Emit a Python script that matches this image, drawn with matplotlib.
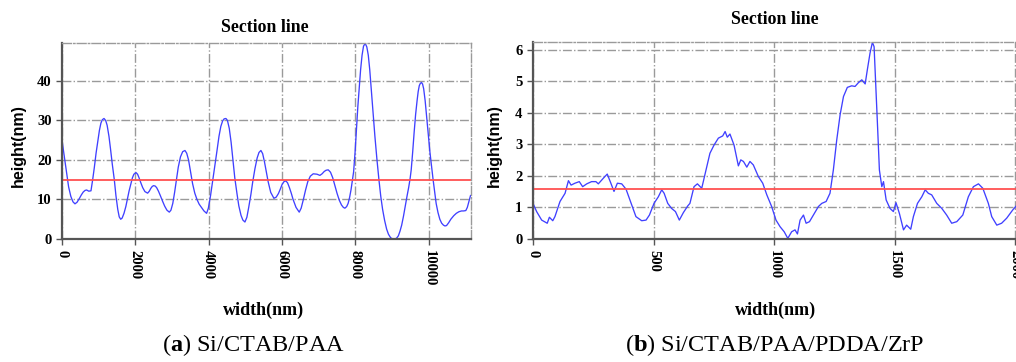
# section line profiles, two panels side by side
import numpy as np
import matplotlib.pyplot as plt

# (a) Si/CTAB/PAA  - width (nm) / height (nm)
a_x = [0, 60, 120, 180, 240, 300, 354, 410, 470, 530,
       580, 630, 672, 730, 790, 836, 880, 930, 980, 1020,
       1060, 1100, 1145, 1190, 1230, 1280, 1320, 1370, 1426, 1470,
       1520, 1560, 1600, 1640, 1690, 1740, 1780, 1830, 1880, 1920,
       1960, 2017, 2060, 2100, 2150, 2200, 2260, 2334, 2380, 2420,
       2460, 2497, 2540, 2580, 2630, 2680, 2740, 2800, 2860, 2925,
       2970, 3020, 3070, 3120, 3170, 3230, 3290, 3352, 3400, 3450,
       3500, 3560, 3620, 3680, 3740, 3800, 3870, 3942, 3990, 4050,
       4100, 4160, 4220, 4280, 4330, 4380, 4420, 4469, 4510, 4560,
       4610, 4660, 4710, 4770, 4820, 4880, 4930, 4987, 5040, 5090,
       5150, 5200, 5260, 5320, 5370, 5423, 5470, 5520, 5570, 5620,
       5690, 5777, 5840, 5900, 5950, 6000, 6050, 6104, 6150, 6200,
       6250, 6300, 6380, 6467, 6520, 6580, 6640, 6700, 6770, 6849,
       6950, 7031, 7090, 7150, 7200, 7258, 7320, 7380, 7440, 7500,
       7560, 7620, 7670, 7712, 7760, 7800, 7840, 7880, 7920, 7950,
       7990, 8030, 8065, 8100, 8140, 8180, 8220, 8266, 8310, 8350,
       8390, 8430, 8480, 8530, 8585, 8640, 8690, 8740, 8795, 8850,
       8900, 8960, 9020, 9074, 9120, 9170, 9215, 9260, 9310, 9360,
       9405, 9450, 9490, 9520, 9560, 9600, 9640, 9680, 9710, 9740,
       9770, 9801, 9830, 9860, 9900, 9940, 9985, 10030, 10075, 10117,
       10160, 10200, 10250, 10300, 10350, 10400, 10440, 10483, 10540, 10600,
       10680, 10750, 10820, 10892, 10950, 11009, 11050, 11080, 11110, 11137]
a_y = [25.0, 21.0, 17.0, 13.2, 10.8, 9.4, 8.9, 9.3, 10.2, 11.2,
       11.9, 12.3, 12.4, 12.1, 12.2, 15.0, 18.0, 21.8, 25.0, 27.5,
       29.3, 30.2, 30.5, 30.0, 28.8, 26.0, 23.0, 19.0, 15.0, 11.0,
       7.5, 5.6, 5.0, 5.3, 6.5, 8.2, 10.0, 12.2, 14.0, 15.5,
       16.4, 16.8, 16.4, 15.5, 14.2, 13.0, 12.0, 11.6, 12.1, 12.8,
       13.3, 13.5, 13.4, 13.0, 12.1, 11.0, 9.6, 8.3, 7.3, 6.8,
       7.3, 9.0, 11.8, 15.0, 18.2, 20.8, 22.1, 22.4, 21.7, 20.0,
       17.3, 14.0, 11.6, 10.0, 8.8, 8.0, 7.1, 6.5, 7.8, 11.0,
       14.2, 18.0, 22.0, 26.0, 28.5, 29.9, 30.4, 30.5, 30.0, 28.0,
       24.5, 20.0, 15.5, 11.5, 8.4, 6.0, 4.8, 4.3, 5.5, 8.0,
       11.3, 14.5, 17.8, 20.5, 21.9, 22.4, 21.6, 19.5, 17.0, 14.5,
       11.8, 10.3, 10.6, 11.5, 12.6, 13.8, 14.5, 14.7, 14.2, 13.0,
       11.6, 10.0, 8.0, 6.8, 7.8, 10.0, 12.4, 14.5, 15.9, 16.5,
       16.4, 16.1, 16.5, 17.1, 17.4, 17.5, 16.9, 15.5, 13.5, 11.5,
       9.8, 8.6, 8.0, 7.8, 8.2, 9.0, 10.5, 12.5, 15.0, 17.0,
       22.0, 28.0, 33.5, 38.0, 42.8, 46.5, 48.8, 49.5, 48.6, 46.5,
       42.8, 38.0, 32.0, 26.0, 20.2, 15.0, 10.8, 7.5, 4.7, 2.5,
       1.2, 0.3, 0.0, 0.0, 0.2, 0.8, 2.0, 3.5, 5.8, 8.5,
       10.8, 13.0, 15.3, 17.5, 22.0, 27.0, 31.5, 35.0, 37.3, 38.8,
       39.4, 39.6, 39.2, 38.0, 35.0, 31.0, 26.5, 22.0, 18.3, 15.0,
       11.8, 9.0, 6.7, 5.0, 4.0, 3.5, 3.3, 3.4, 4.1, 5.0,
       5.9, 6.5, 6.9, 7.1, 7.1, 7.2, 8.0, 9.0, 10.0, 11.0]
a_mean = 14.9

# (b) Si/CTAB/PAA/PDDA/ZrP
b_x = [0, 15, 36, 59, 68, 82, 91, 112, 133, 147, 158, 174, 192, 206, 223, 243, 261, 271,
       292, 308, 322, 336, 350, 368, 386, 402, 427, 451, 469, 483, 502, 520, 534, 544, 559,
       575, 591, 607, 624, 642, 651, 668, 682, 700, 718, 734, 751, 769, 787, 797, 806, 817,
       834, 852, 862, 873, 887, 900, 914, 935, 953, 970, 990, 1008, 1025, 1042, 1057, 1073,
       1087, 1097, 1108, 1122, 1133, 1147, 1163, 1184, 1198, 1216, 1232, 1246, 1260, 1274,
       1288, 1304, 1322, 1336, 1350, 1364, 1378, 1387, 1398, 1408, 1415, 1423, 1430, 1437,
       1447, 1454, 1465, 1481, 1495, 1506, 1520, 1537, 1550, 1567, 1578, 1595, 1613, 1627,
       1640, 1654, 1675, 1696, 1716, 1737, 1758, 1783, 1806, 1827, 1848, 1866, 1889, 1903,
       1924, 1944, 1965, 1990, 2005]
b_y = [1.13, 0.87, 0.60, 0.50, 0.69, 0.58, 0.71, 1.19, 1.45, 1.85, 1.71, 1.77, 1.82, 1.66,
       1.75, 1.82, 1.82, 1.75, 1.93, 2.06, 1.79, 1.51, 1.77, 1.75, 1.58, 1.24, 0.71, 0.58,
       0.60, 0.76, 1.13, 1.34, 1.56, 1.45, 1.13, 0.97, 0.87, 0.60, 0.84, 1.05, 1.13, 1.66,
       1.75, 1.61, 2.19, 2.72, 2.98, 3.20, 3.27, 3.41, 3.23, 3.33, 2.98, 2.32, 2.51, 2.46,
       2.28, 2.46, 2.35, 1.98, 1.77, 1.40, 1.03, 0.60, 0.39, 0.23, 0.02, 0.23, 0.29, 0.16,
       0.60, 0.76, 0.50, 0.55, 0.76, 1.03, 1.13, 1.19, 1.45, 2.19, 3.14, 3.94, 4.52, 4.81,
       4.86, 4.84, 4.96, 5.05, 4.92, 5.37, 5.89, 6.24, 6.10, 4.73, 3.46, 2.19, 1.66, 1.82,
       1.24, 0.97, 0.87, 1.15, 0.81, 0.29, 0.44, 0.31, 0.71, 1.13, 1.34, 1.56, 1.45, 1.40,
       1.13, 0.97, 0.76, 0.50, 0.55, 0.76, 1.34, 1.66, 1.75, 1.61, 1.13, 0.71, 0.44, 0.50,
       0.66, 0.92, 1.05]
b_mean = 1.6

SERIF = "Liberation Serif"
SANS = "Liberation Sans"
GRID = "#9a9a9a"
AXC = "#555555"


def style_axes(ax, xt, yt, xlim, ylim):
    ax.set_xlim(*xlim)
    ax.set_ylim(*ylim)
    ax.set_xticks(xt)
    ax.set_yticks(yt)
    ax.grid(True, color=GRID, linestyle="-.", linewidth=1.0)
    for s in ["top", "right"]:
        ax.spines[s].set_color(GRID)
        ax.spines[s].set_linestyle("-.")
        ax.spines[s].set_linewidth(1.0)
    for s in ["left", "bottom"]:
        ax.spines[s].set_color(AXC)
        ax.spines[s].set_linewidth(1.6)
    ax.tick_params(axis="both", direction="out", length=4, color=AXC, width=1.0)
    ax.tick_params(axis="x", pad=4)
    for lab in ax.get_xticklabels():
        lab.set_rotation(-90)
        lab.set_fontfamily(SERIF)
        lab.set_fontweight("bold")
        lab.set_fontsize(10.5)
        lab.set_va("top")
    for lab in ax.get_yticklabels():
        lab.set_fontfamily(SERIF)
        lab.set_fontweight("bold")
        lab.set_fontsize(10.5)


def main():
    plt.rcParams["mathtext.fontset"] = "custom"
    plt.rcParams["mathtext.rm"] = SERIF
    plt.rcParams["mathtext.bf"] = SERIF + ":bold"

    fig = plt.figure(figsize=(10.16, 3.62), dpi=100)

    # --- (a) ---
    ax1 = fig.add_axes([62 / 1016, 123 / 362, 409 / 1016, 196 / 362])
    ax1.plot(a_x, a_y, color="#4040ff", linewidth=0.95)
    ax1.axhline(a_mean, color="#ff5050", linewidth=1.3)
    style_axes(ax1, [0, 2000, 4000, 6000, 8000, 10000], [0, 10, 20, 30, 40],
               (0, 11150), (0, 49.6))

    # --- (b) ---
    ax2 = fig.add_axes([533 / 1016, 123 / 362, 485 / 1016, 197 / 362])
    ax2.plot(b_x, b_y, color="#4040ff", linewidth=0.95)
    ax2.axhline(b_mean, color="#ff5050", linewidth=1.3)
    style_axes(ax2, [0, 500, 1000, 1500, 2000], [0, 1, 2, 3, 4, 5, 6],
               (0, 2012), (0, 6.25))

    # titles / axis labels placed in figure pixels
    def ftext(px, py, s, **kw):
        fig.text(px / 1016, 1 - py / 362, s, ha="center", va="center", **kw)

    ftext(265, 27, "Section line", fontfamily=SERIF, fontweight="bold", fontsize=12.8)
    ftext(775, 19, "Section line", fontfamily=SERIF, fontweight="bold", fontsize=12.8)
    ftext(264, 310, "width(nm)", fontfamily=SERIF, fontweight="bold", fontsize=13)
    ftext(776, 310, "width(nm)", fontfamily=SERIF, fontweight="bold", fontsize=13)
    ftext(18, 146, "height(nm)", fontfamily=SANS, fontweight="bold", fontsize=11.5,
          rotation=90)
    ftext(494, 146, "height(nm)", fontfamily=SANS, fontweight="bold", fontsize=11.5,
          rotation=90)

    # captions
    ftext(254, 345, r"($\mathbf{a}$) Si/CTAB/PAA", fontfamily=SERIF, fontsize=17.5)
    ftext(775, 345, r"($\mathbf{b}$) Si/CTAB/PAA/PDDA/ZrP", fontfamily=SERIF, fontsize=17.5)

    fig.savefig("out.png", dpi=100)
    plt.close(fig)


if __name__ == "__main__":
    main()
